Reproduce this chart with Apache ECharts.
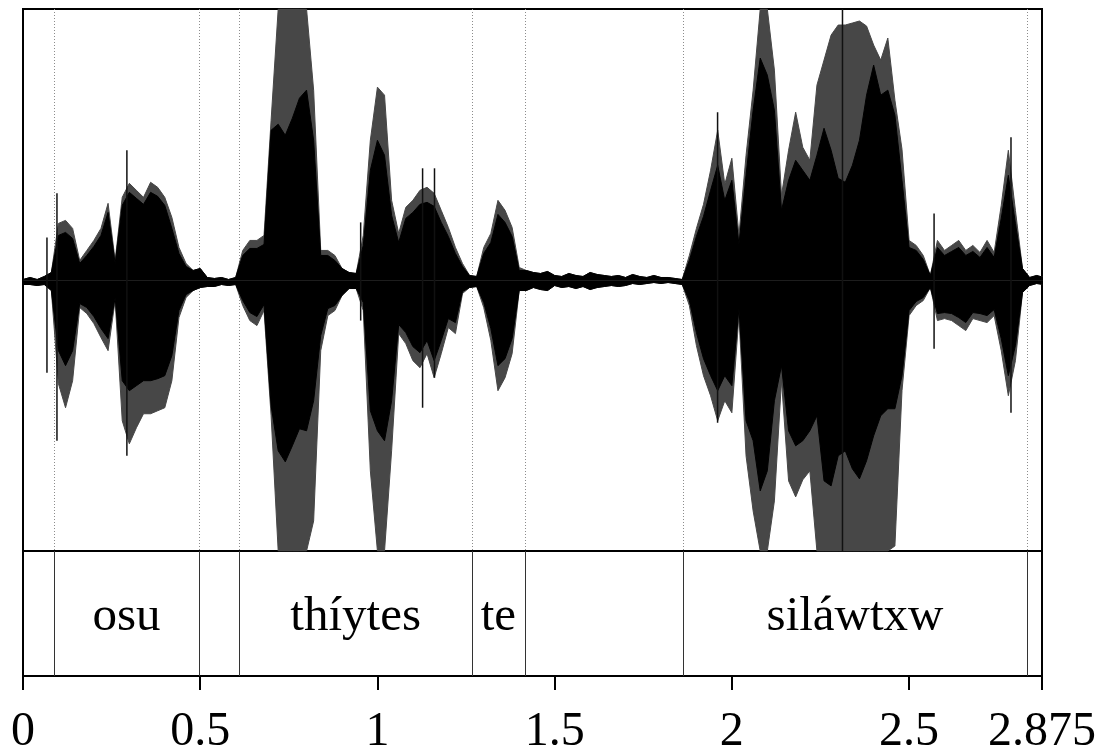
<!DOCTYPE html>
<html>
<head>
<meta charset="utf-8">
<script src="https://cdn.jsdelivr.net/npm/echarts@6/dist/echarts.min.js"></script>
<style>html,body{margin:0;padding:0;background:#fff}#chart{width:1105px;height:756px}</style>
</head>
<body>
<div id="chart"></div>
<script>
const STEP = 0.02;
const outerTop = [1,3,1,4,8,57,60,52,20,30,
 40,52,77,20,83,97,90,83,98,93,
 83,63,33,17,10,12,3,2,3,1,
 3,30,40,40,45,160,271,271,271,271,
 271,190,30,30,25,12,8,7,45,140,
 193,185,80,47,73,80,90,93,87,70,
 53,33,17,5,4,33,47,80,70,53,
 13,10,8,7,9,5,4,7,5,4,
 8,6,5,4,5,3,6,4,3,5,
 3,3,2,1,25,52,76,110,150,96,
 122,45,125,190,271,271,210,85,130,168,
 133,120,195,220,245,255,255,257,259,254,
 235,220,242,180,131,40,35,25,5,40,
 30,35,40,30,35,28,40,28,75,130,
 70,12,3,5,3];
const outerBottom = [-4,-4,-5,-4,-10,-103,-127,-100,-27,-33,
 -43,-57,-70,-20,-140,-163,-147,-133,-133,-130,
 -127,-100,-37,-17,-10,-7,-6,-6,-4,-5,
 -4,-25,-40,-45,-30,-135,-270,-270,-270,-270,
 -270,-240,-70,-35,-30,-15,-8,-8,-30,-190,
 -270,-270,-170,-53,-63,-80,-87,-73,-97,-73,
 -47,-53,-13,-7,-6,-27,-60,-110,-97,-73,
 -10,-10,-7,-9,-10,-5,-7,-6,-8,-6,
 -9,-7,-6,-5,-6,-5,-3,-4,-3,-2,
 -3,-2,-3,-4,-25,-65,-95,-115,-140,-120,
 -132,-35,-175,-230,-270,-270,-220,-100,-200,-216,
 -199,-190,-270,-270,-270,-270,-270,-270,-270,-270,
 -270,-270,-270,-265,-110,-35,-25,-20,-7,-40,
 -38,-40,-45,-50,-38,-40,-42,-35,-70,-115,
 -80,-12,-5,-3,-4];
const innerTop = [1,3,1,4,8,45,48,42,17,25,
 34,45,68,17,75,88,82,76,88,84,
 75,52,27,14,10,12,3,2,3,1,
 3,25,32,32,36,150,156,145,162,182,
 190,140,25,25,20,12,8,7,35,110,
 140,125,65,38,62,68,76,78,74,58,
 44,27,14,5,4,27,38,66,58,44,
 10,10,8,7,9,5,4,7,5,4,
 8,6,5,4,5,3,6,4,3,5,
 3,3,2,1,20,44,64,90,115,80,
 100,36,105,170,222,205,170,70,100,120,
 110,100,125,152,130,102,98,115,140,185,
 215,185,190,165,100,33,30,21,5,33,
 25,29,33,25,29,23,33,23,62,105,
 57,12,3,5,3];
const innerBottom = [-4,-4,-5,-4,-10,-70,-85,-70,-23,-27,
 -36,-48,-58,-17,-100,-110,-105,-100,-100,-98,
 -95,-75,-30,-14,-10,-7,-6,-6,-4,-5,
 -4,-20,-32,-36,-24,-125,-170,-181,-165,-148,
 -150,-120,-55,-28,-25,-15,-8,-8,-22,-130,
 -150,-160,-120,-44,-52,-66,-72,-60,-80,-60,
 -38,-42,-11,-7,-6,-22,-48,-85,-78,-58,
 -10,-10,-7,-9,-10,-5,-7,-6,-8,-6,
 -9,-7,-6,-5,-6,-5,-3,-4,-3,-2,
 -3,-2,-3,-4,-20,-52,-78,-95,-110,-95,
 -105,-28,-140,-160,-210,-190,-120,-85,-150,-165,
 -160,-150,-135,-200,-205,-175,-170,-188,-198,-180,
 -155,-135,-128,-128,-95,-30,-21,-17,-7,-33,
 -32,-33,-37,-42,-32,-33,-35,-29,-58,-95,
 -65,-12,-5,-3,-4];
// Isolated tall spikes: [time, top, bottom]
const spikes = [[0.0676,43,-92],[0.0958,87,-160],[0.2931,130,-175],[0.9527,58,-40],
 [1.1274,112,-127],[1.161,112,-97],[1.9597,168,-142],[2.3121,271,-270],
 [2.5705,67,-68],[2.7875,143,-132]];
// Text tier
const tierEdges = [0, 0.0874, 0.4969, 0.6097, 1.2675, 1.415, 1.8631, 2.8319, 2.875];
const tierLabels = ['', 'osu', '', 'thíytes', 'te', '', 'siláwtxw', ''];
const boundaries = tierEdges.slice(1, -1);
// x-axis ticks
const tickValues = [0, 0.5, 1, 1.5, 2, 2.5, 2.875];
const tickLabels = ['0', '0.5', '1', '1.5', '2', '2.5', '2.875'];

const AMP_MIN = -270, AMP_MAX = 271, T_MAX = 2.875;

function pairs(arr){ return arr.map((v,i)=>[+(i*STEP).toFixed(4), v]); }
function env(name, arr, color, z){
  return {name, type:'line', xAxisIndex:0, yAxisIndex:0, data:pairs(arr), showSymbol:false, symbol:'none',
    lineStyle:{color, width:1}, areaStyle:{color, opacity:1}, z, silent:true, clip:true};
}
const serif = '"Liberation Serif","Times New Roman",serif';

const chart = echarts.init(document.getElementById('chart'), null, {renderer:'canvas'});
chart.setOption({
  animation:false,
  backgroundColor:'#fff',
  grid:[
    {left:23, width:1019, top:9, height:542, show:true, borderColor:'#000', borderWidth:2, backgroundColor:'transparent'},
    {left:23, width:1019, top:551, height:135, show:true, borderColor:'#000', borderWidth:2, backgroundColor:'transparent'}
  ],
  xAxis:[
    {type:'value', gridIndex:0, min:0, max:T_MAX, show:false},
    {type:'value', gridIndex:1, min:0, max:T_MAX,
      axisLine:{show:true, onZero:false, lineStyle:{color:'#000', width:2}},
      axisTick:{show:true, length:14, lineStyle:{color:'#000', width:2}, customValues:tickValues},
      axisLabel:{show:true, customValues:tickValues, margin:32, color:'#000', fontSize:48, fontFamily:serif,
        formatter:(v)=>{const i=tickValues.findIndex(x=>Math.abs(x-v)<1e-6); return i>=0?tickLabels[i]:'';}},
      splitLine:{show:false}}
  ],
  yAxis:[
    {type:'value', gridIndex:0, min:AMP_MIN, max:AMP_MAX, show:false},
    {type:'value', gridIndex:1, min:0, max:1, show:false}
  ],
  series:[
    {type:'custom', xAxisIndex:0, yAxisIndex:0, z:1, silent:true,
      data:boundaries.map(t=>[t]),
      renderItem:(p,api)=>{const a=api.coord([api.value(0),AMP_MAX]); const b=api.coord([api.value(0),AMP_MIN]);
        return {type:'line', shape:{x1:Math.round(a[0])+0.5,y1:a[1],x2:Math.round(b[0])+0.5,y2:b[1]}, style:{stroke:'#8c8c8c', lineWidth:1, lineDash:[1,2]}};}},
    env('outerTop', outerTop, '#474747', 2),
    env('outerBottom', outerBottom, '#474747', 2),
    env('innerTop', innerTop, '#000', 3),
    env('innerBottom', innerBottom, '#000', 3),
    {type:'custom', xAxisIndex:0, yAxisIndex:0, z:4, silent:true, data:spikes,
      renderItem:(p,api)=>{const a=api.coord([api.value(0),api.value(1)]); const b=api.coord([api.value(0),api.value(2)]);
        return {type:'line', shape:{x1:a[0],y1:a[1],x2:b[0],y2:b[1]}, style:{stroke:'#111', lineWidth:1.5}};}},
    {type:'custom', xAxisIndex:1, yAxisIndex:1, z:3, silent:true,
      data:boundaries.map(t=>[t]),
      renderItem:(p,api)=>{const a=api.coord([api.value(0),1]); const b=api.coord([api.value(0),0]);
        return {type:'line', shape:{x1:Math.round(a[0])+0.5,y1:a[1],x2:Math.round(b[0])+0.5,y2:b[1]}, style:{stroke:'#333', lineWidth:1}};}},
    {type:'custom', xAxisIndex:1, yAxisIndex:1, z:4, silent:true,
      data:tierLabels.map((s,i)=>[tierEdges[i], tierEdges[i+1], i]),
      renderItem:(p,api)=>{const i=api.value(2); const c=api.coord([(api.value(0)+api.value(1))/2, 0.5]);
        return {type:'text', x:c[0], y:c[1]+4, style:{text:tierLabels[i], fill:'#000', font:'49px '+serif, align:'center', verticalAlign:'middle'}};}}
  ]
});
</script>
</body>
</html>
